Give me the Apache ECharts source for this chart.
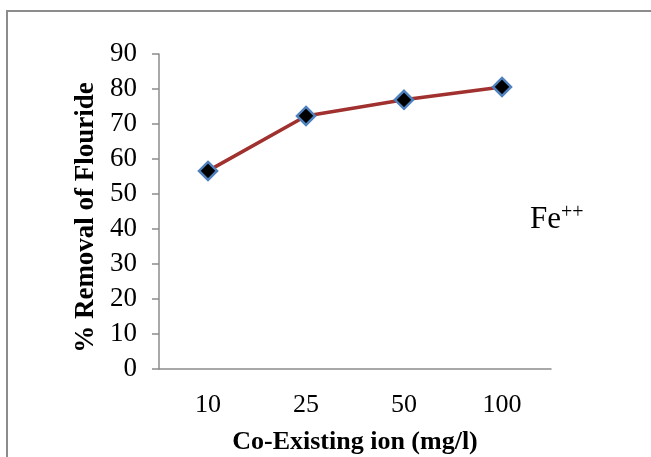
<!DOCTYPE html>
<html><head><meta charset="utf-8">
<script src="https://cdn.jsdelivr.net/npm/echarts@6/dist/echarts.min.js"></script>
<style>html,body{margin:0;padding:0;background:#fff}#c{width:651px;height:457px}</style>
</head><body><div id="c"></div>
<script>
var categories = ['10', '25', '50', '100'];
var removal = [56.6, 72.3, 76.9, 80.6];
var yTicks = { min: 0, max: 90, interval: 10 };

var chart = echarts.init(document.getElementById('c'));
var serif = '"Liberation Serif","Times New Roman",serif';
chart.setOption({
  animation: false,
  backgroundColor: '#fff',
  grid: { left: 159, right: 100, top: 54, bottom: 88, containLabel: false, outerBoundsMode: 'none' },
  graphic: [
    { type: 'rect', shape: { x: 7, y: 11, width: 700, height: 500 },
      style: { fill: 'none', stroke: '#8c8c8c', lineWidth: 2 }, silent: true },
    { type: 'text', left: 530, top: 203,
      style: { text: '{a|Fe}{s|++}', rich: {
        a: { fontFamily: serif, fontSize: 31, fill: '#000' },
        s: { fontFamily: serif, fontSize: 20, fill: '#000', verticalAlign: 'top', padding: [0,0,14,0] } } } }
  ],
  xAxis: {
    type: 'category', data: categories, boundaryGap: true,
    axisLine: { lineStyle: { color: '#8c8c8c', width: 1.5 } },
    axisTick: { show: false },
    axisLabel: { color: '#000', fontFamily: serif, fontSize: 26, margin: 23 },
    name: 'Co-Existing ion (mg/l)', nameLocation: 'middle', nameGap: 60,
    nameTextStyle: { color: '#000', fontFamily: serif, fontSize: 26, fontWeight: 'bold' }
  },
  yAxis: {
    type: 'value', min: yTicks.min, max: yTicks.max, interval: yTicks.interval,
    axisLine: { show: true, lineStyle: { color: '#8c8c8c', width: 1.5 } },
    axisTick: { show: true, length: 7, lineStyle: { color: '#8c8c8c', width: 1.5 } },
    splitLine: { show: false },
    axisLabel: { color: '#000', fontFamily: serif, fontSize: 27, margin: 22 },
    name: '% Removal of Flouride', nameLocation: 'middle', nameGap: 57,
    nameTextStyle: { color: '#000', fontFamily: serif, fontSize: 27, fontWeight: 'bold', padding: [0, 12, 0, 0] }
  },
  series: [{
    type: 'line', data: removal,
    lineStyle: { color: '#A0312E', width: 3.5 },
    symbol: 'diamond', symbolSize: 18,
    itemStyle: { color: '#000', borderColor: '#4F81BD', borderWidth: 2.5 }
  }]
});
</script></body></html>
